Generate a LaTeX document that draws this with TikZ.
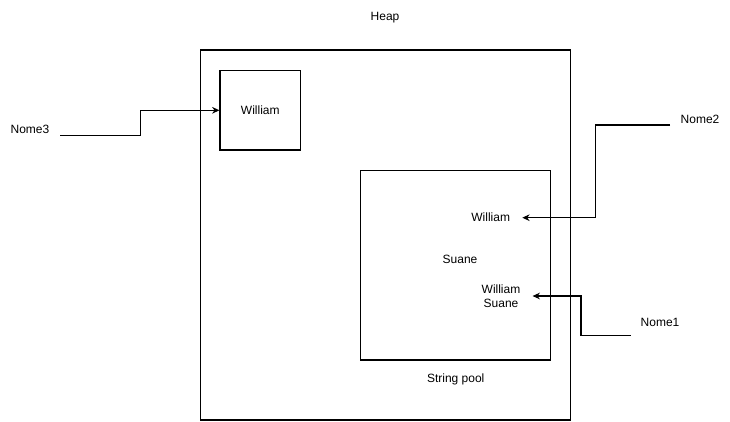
\documentclass[tikz,border=0pt]{standalone}
\usepackage{fontspec}
\setmainfont{Liberation Sans}
\usetikzlibrary{positioning,arrows.meta}

\begin{document}
\begin{tikzpicture}[x=0.75pt,y=-0.75pt,font=\fontsize{9pt}{10.5pt}\selectfont]
    \tikzstyle{box} = [rectangle,draw,line width=0.8pt,inner sep=0pt]
    \tikzstyle{lbl} = [inner sep=0pt]
    \tikzstyle{str} = [align=center,inner ysep=0pt,inner xsep=9pt]
    \tikzstyle{ptr} = [line width=0.8pt,-{Stealth[length=5.5pt,width=5pt]}]
    \useasboundingbox (0,0) rectangle (730,421);
    \node [lbl] (heaplbl) at (385,18) {Heap};
    \node [box, minimum width=277.5pt, minimum height=277.5pt] (heap) at (385.3,235) {};
    \node [box, minimum width=60.5pt, minimum height=59.5pt] (obj) at (260.3,110.3) {William};
    \node [box, minimum width=142.3pt, minimum height=142pt] (pool) at (455.2,265.3) {};
    \node [lbl] (poollbl) at (455.7,379.5) {String pool};
    \node [str] (will) at (490.7,217.7) {William};
    \node [str] (suane) at (460,259) {Suane};
    \node [str] (wsuane) at (501,296) {William\\Suane};
    \node [lbl] (nome3) at (30,129) {Nome3};
    \node [lbl] (nome2) at (700,119) {Nome2};
    \node [lbl] (nome1) at (660,322.7) {Nome1};
    \coordinate (n3) at (60,135.7);
    \coordinate (n2) at (670,125);
    \coordinate (n1) at (630.7,335.3);
    \draw [ptr] (n3) -- ++(80.7,0) |- (obj.west);
    \draw [ptr] (n2) -- ++(-74.3,0) |- (will.east);
    \draw [ptr] (n1) -- ++(-49.7,0) |- (wsuane.east);
\end{tikzpicture}
\end{document}
